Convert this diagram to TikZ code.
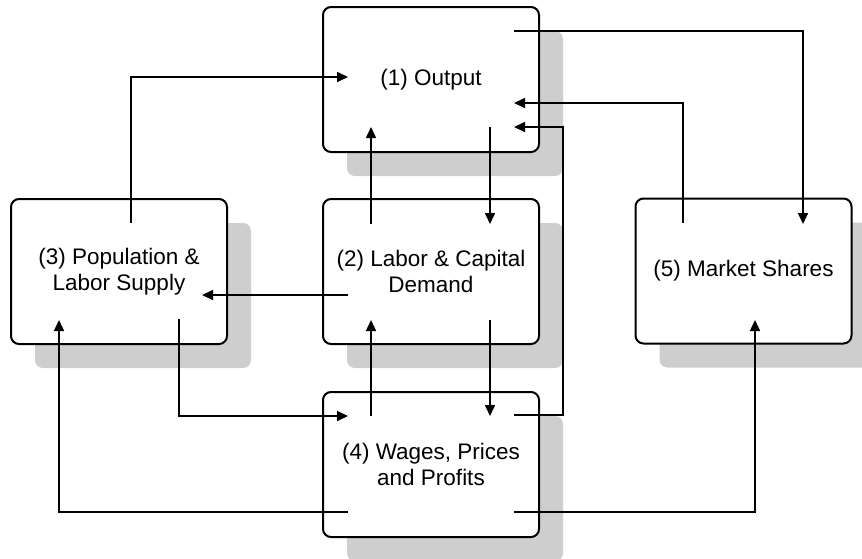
\documentclass[tikz,border=0pt]{standalone}
\usepackage{fontspec}
\setmainfont{Liberation Sans}
\usetikzlibrary{shadows,arrows.meta}
\definecolor{shgray}{HTML}{CECECE}
\tikzset{
  box/.style={draw=black, line width=2pt, rounded corners=8pt, fill=white,
    minimum width=216pt, minimum height=145pt, align=center, inner sep=0pt,
    font=\fontsize{22.5}{26}\selectfont,
    general shadow={fill=shgray, shadow xshift=24pt, shadow yshift=-24pt}},
  conn/.style={line width=1.6pt, -{Triangle[length=11pt,width=10pt]}},
}
\begin{document}
\begin{tikzpicture}[x=1pt,y=-1pt]
\useasboundingbox (0,0) rectangle (862,558);
\node[box] (b1) at (431,79.5) {(1) Output};
\node[box] (b2) at (431,271.5) {(2) Labor \& Capital\\Demand};
\node[box] (b3) at (119,271.5) {(3) Population \&\\Labor Supply};
\node[box] (b4) at (431,464.5) {(4) Wages, Prices\\and Profits};
\node[box] (b5) at (743.5,271) {(5) Market Shares};
% free ends inside boxes
\coordinate (b1in1) at (348,77);
\coordinate (b1out1) at (514,31);
\coordinate (b1in2) at (514,103);
\coordinate (b1in3) at (514,127);
\coordinate (b1in4) at (371,127);
\coordinate (b1out2) at (490,127);
\coordinate (b2in1) at (490,224);
\coordinate (b2out1) at (371,224);
\coordinate (b2out2) at (348,295);
\coordinate (b2in2) at (371,320);
\coordinate (b2out3) at (490,320);
\coordinate (b3out1) at (131,223);
\coordinate (b3in1) at (202,295);
\coordinate (b3out2) at (179,319);
\coordinate (b3in2) at (59,320);
\coordinate (b4in1) at (348,416);
\coordinate (b4out1) at (371,416);
\coordinate (b4in2) at (490,416);
\coordinate (b4out2) at (514,415);
\coordinate (b4out3) at (348,512);
\coordinate (b4out4) at (514,512);
\coordinate (b5in1) at (803,224);
\coordinate (b5out1) at (683,223);
\coordinate (b5in2) at (755,320);
% connectors
\draw[conn] (b3out1) |- (b1in1);
\draw[conn] (b1out1) -| (b5in1);
\draw[conn] (b5out1) |- (b1in2);
\draw[conn] (b4out2) -- (563,415) |- (b1in3);
\draw[conn] (b2out1) -- (b1in4);
\draw[conn] (b1out2) -- (b2in1);
\draw[conn] (b2out2) -- (b3in1);
\draw[conn] (b3out2) |- (b4in1);
\draw[conn] (b4out1) -- (b2in2);
\draw[conn] (b2out3) -- (b4in2);
\draw[conn] (b4out3) -| (b3in2);
\draw[conn] (b4out4) -| (b5in2);
\end{tikzpicture}
\end{document}
